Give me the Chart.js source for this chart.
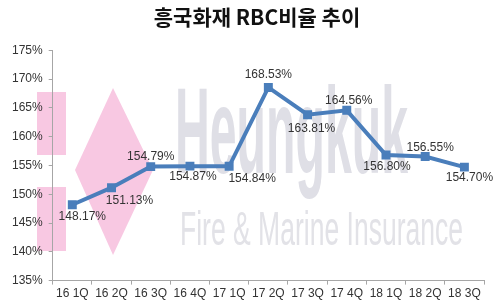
<!DOCTYPE html>
<html>
<head>
<meta charset="utf-8">
<script src="https://cdn.jsdelivr.net/npm/chart.js@4/dist/chart.umd.min.js"></script>
<style>
  html, body { margin: 0; padding: 0; background: #ffffff; }
  #wrap { width: 500px; height: 303px; position: relative; }
</style>
</head>
<body>
<div id="wrap"><canvas id="c" width="500" height="303"></canvas></div>
<script>
const categories = ['16 1Q','16 2Q','16 3Q','16 4Q','17 1Q','17 2Q','17 3Q','17 4Q','18 1Q','18 2Q','18 3Q'];
const rbcRatio = [148.17, 151.13, 154.79, 154.87, 154.84, 168.53, 163.81, 164.56, 156.80, 156.55, 154.70];
const yTicks = { min: 135, max: 175, step: 5 };
const chartTitle = '흥국화재 RBC비율 추이';

// label placement (style only): offset of each value label from its point, in px
const labelPlacement = [
  [10, 12], [18, 13], [0, -10], [3, 11], [23, 12], [0, -13],
  [4, 14], [2, -10], [1, 12], [5, -9], [5, 11]
];

const watermark = {
  id: 'watermark',
  beforeDraw(chart) {
    const ctx = chart.ctx;
    ctx.save();
    // pink blocks
    ctx.fillStyle = '#f8c8e2';
    ctx.fillRect(37, 92, 29, 63);
    ctx.fillRect(37, 187, 29, 64);
    ctx.beginPath();
    ctx.moveTo(113, 88);
    ctx.lineTo(153, 170);
    ctx.lineTo(113, 255);
    ctx.lineTo(75, 170);
    ctx.closePath();
    ctx.fill();
    // Heungkuk text
    ctx.fillStyle = '#dfdfe6';
    ctx.textBaseline = 'alphabetic';
    ctx.textAlign = 'left';
    ctx.save();
    ctx.translate(175, 173);
    ctx.font = 'bold 123px "Liberation Sans", Arial, sans-serif';
    const w1 = ctx.measureText('Heungkuk').width;
    ctx.scale(233 / w1, 1);
    ctx.fillText('Heungkuk', 0, 0);
    ctx.restore();
    // Fire & Marine Insurance
    ctx.fillStyle = '#e2e2e7';
    ctx.save();
    ctx.translate(180, 245);
    ctx.font = '49px "Liberation Sans", Arial, sans-serif';
    const w2 = ctx.measureText('Fire & Marine Insurance').width;
    ctx.scale(283 / w2, 1);
    ctx.fillText('Fire & Marine Insurance', 0, 0);
    ctx.restore();
    ctx.restore();
  }
};

const valueLabels = {
  id: 'valueLabels',
  afterDatasetsDraw(chart) {
    const ctx = chart.ctx;
    const meta = chart.getDatasetMeta(0);
    const data = chart.data.datasets[0].data;
    ctx.save();
    ctx.font = '12px "Liberation Sans", Arial, sans-serif';
    ctx.fillStyle = '#333333';
    ctx.textAlign = 'center';
    ctx.textBaseline = 'middle';
    meta.data.forEach((pt, i) => {
      const off = labelPlacement[i] || [0, -10];
      ctx.fillText(data[i].toFixed(2) + '%', pt.x + off[0], pt.y + off[1]);
    });
    ctx.restore();
  }
};

const titleShift = {
  id: 'titleShift',
  afterLayout(chart) {
    if (chart.titleBlock) {
      chart.titleBlock.left += 12;
      chart.titleBlock.right += 12;
    }
  }
};

new Chart(document.getElementById('c'), {
  type: 'line',
  data: {
    labels: categories,
    datasets: [{
      data: rbcRatio,
      borderColor: '#4a7ebb',
      backgroundColor: '#4a7ebb',
      borderWidth: 4,
      pointStyle: 'rect',
      pointRadius: 3.5,
      pointBackgroundColor: '#4a7ebb',
      pointBorderColor: '#4a7ebb',
      tension: 0,
      fill: false
    }]
  },
  options: {
    responsive: false,
    animation: false,
    layout: { padding: { left: 6, right: 16, top: 0, bottom: 0 } },
    plugins: {
      legend: { display: false },
      tooltip: { enabled: false },
      title: {
        display: true,
        text: chartTitle,
        color: '#111111',
        font: { family: '"Noto Sans CJK KR", sans-serif', size: 21, weight: 'bold' },
        padding: { top: 4, bottom: 21 }
      }
    },
    scales: {
      x: {
        offset: true,
        border: { color: '#a6a6a6', width: 1 },
        grid: { display: true, drawOnChartArea: false, drawTicks: true, tickLength: 4, color: '#a6a6a6', offset: true },
        ticks: { color: '#333333', font: { family: '"Liberation Sans", Arial, sans-serif', size: 12 }, padding: 2, maxRotation: 0, autoSkip: false }
      },
      y: {
        min: yTicks.min,
        max: yTicks.max,
        border: { color: '#a6a6a6', width: 1 },
        grid: { display: true, drawOnChartArea: false, drawTicks: true, tickLength: 4, color: '#a6a6a6' },
        ticks: {
          stepSize: yTicks.step,
          color: '#333333',
          font: { family: '"Liberation Sans", Arial, sans-serif', size: 12 },
          padding: 6,
          callback: v => v + '%'
        }
      }
    }
  },
  plugins: [watermark, valueLabels, titleShift]
});
</script>
</body>
</html>
